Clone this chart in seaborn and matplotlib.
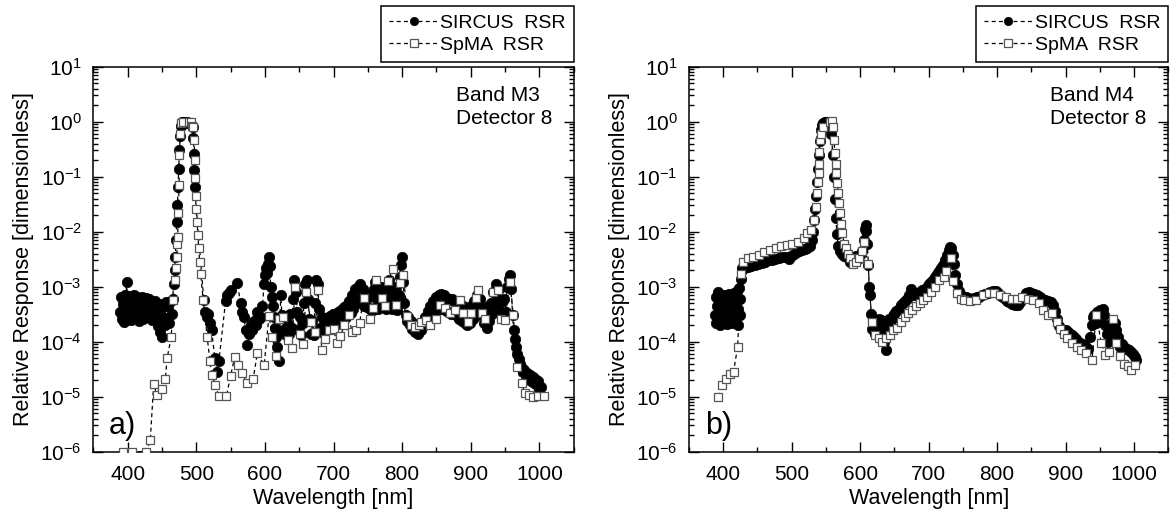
import matplotlib
matplotlib.use("Agg")
import matplotlib.pyplot as plt
import matplotlib.ticker as mticker
import seaborn as sns

# ---------------- data: panel a (Band M3) ----------------
m3_sircus_wl = [389, 390.5, 392, 393, 394.5, 396, 397, 398.5, 400, 401, 402.5, 404, 405.5, 407, 408.5, 410,
                411.5, 413, 414.5, 416, 417.5, 419, 420.5, 422, 423.5, 425, 426.5, 428, 429.5, 431, 432.5, 434,
                435.5, 437, 438.5, 440, 441.5, 443, 444.5, 446, 447.5, 449, 450.5, 452, 453.5, 455, 456.5, 458,
                459.5, 461, 462.5, 464, 465.5, 467,
                468.5, 469.5, 470.5, 471.5, 472.5, 473.5, 474.5, 475.5, 476.5, 477.5, 479, 481, 483, 485, 487,
                495, 496, 496.5, 497, 497.5,
                511, 513, 515, 517.5, 520, 522.5, 527, 530.5, 533,
                542.7, 545, 547.5, 550, 559.8, 564.6, 567, 569.5, 572, 574.4, 577, 579.5, 581.7, 584, 586.5, 589,
                591.5, 594, 596.5, 598.8, 600.5, 602, 603.7, 605, 606, 607, 608.5, 610, 611.5, 613, 614.5, 616,
                618, 620.7,
                623, 625, 627, 629, 631, 633, 635, 637, 639, 641, 643, 645, 647, 649, 651, 653, 655, 657, 659, 661,
                663, 665, 667, 669, 671, 673, 675, 677, 679, 681, 683, 685, 687, 689, 691, 693, 695, 697, 699, 701,
                703, 705, 707, 709, 711, 713, 715, 717, 719, 721, 723, 725, 727, 729, 731, 733, 735, 737, 739, 741,
                743, 745, 747, 749, 751, 753, 755, 757, 759, 761, 763, 765, 767, 769, 771, 773, 775, 777, 779, 781,
                783, 785, 787, 789, 791, 793, 795, 797, 799, 800, 801.5, 803,
                805, 807, 809, 811, 813, 815, 817, 819, 821, 823, 825, 827, 829, 831, 833, 835, 837, 839, 841, 843,
                845, 847, 849, 851, 853, 855, 857, 859, 861, 863, 865, 867, 869, 871, 873, 875, 877, 879, 881, 883,
                885, 887, 889, 891, 893, 895, 897, 899, 901, 903, 905, 907, 909, 911, 913, 915, 917, 919, 921, 923,
                925, 927, 929, 931, 933, 935, 937, 939, 941, 943, 945, 947, 949, 951, 953, 955, 957, 959, 961,
                962.5, 964, 966, 968, 970, 972, 974, 976, 978, 980, 982, 984, 986, 988, 990, 992, 994, 996, 998,
                1000, 1002]
m3_sircus_val = [3.5e-4, 6.5e-4, 2.6e-4, 4.8e-4, 2.3e-4, 7.2e-4, 3.8e-4, 1.2e-3, 5.5e-4, 2.9e-4, 6.8e-4, 4.2e-4,
                 2.5e-4, 6.0e-4, 3.6e-4, 7.0e-4, 2.7e-4, 6.4e-4, 4.5e-4, 2.4e-4, 5.8e-4, 3.3e-4, 6.6e-4, 2.6e-4,
                 5.2e-4, 3.9e-4, 6.2e-4, 2.8e-4, 4.6e-4, 6.0e-4, 3.0e-4, 5.0e-4, 2.5e-4, 4.4e-4, 3.2e-4, 5.4e-4,
                 2.4e-4, 4.0e-4, 1.9e-4, 4.8e-4, 1.5e-4, 3.0e-4, 1.2e-4, 2.6e-4, 4.6e-4, 2.0e-4, 5.2e-4, 2.7e-4,
                 4.4e-4, 2.2e-4, 5.6e-4, 3.2e-4, 6.0e-4, 1.1e-3,
                 2.0e-3, 3.5e-3, 7e-3, 1.5e-2, 3.0e-2, 6.5e-2, 0.14, 0.3, 0.55, 0.85, 1.0, 0.97, 1.0, 0.96, 1.0,
                 0.8, 0.5, 0.26, 0.13, 0.066,
                 5.8e-4, 3.5e-4, 2.8e-4, 3.2e-4, 2.2e-4, 1.6e-4, 5e-5, 2.8e-5, 4.4e-5,
                 5.4e-4, 7.0e-4, 7.6e-4, 8.7e-4, 1.17e-3, 5.0e-4, 3.5e-4, 2.8e-4, 1.6e-4, 8.7e-5, 1.4e-4, 2.0e-4,
                 1.6e-4, 2.4e-4, 2.0e-4, 3.5e-4, 2.6e-4, 2.8e-4, 4.5e-4, 1.1e-3, 1.6e-3, 2.2e-3, 1.8e-3, 2.6e-3,
                 3.5e-3, 2.4e-3, 1.0e-3, 6.5e-4, 4.5e-4, 2.8e-4, 1.8e-4, 1.2e-4, 8.1e-5, 4.4e-5,
                 7.0e-4, 3.0e-4, 1.6e-4, 2.6e-4, 1.3e-4, 2.1e-4, 1.4e-4, 3.2e-4, 1.8e-4, 6e-4, 1.3e-3, 8e-4,
                 3.5e-4, 1.6e-4, 2.8e-4, 1.3e-4, 2.2e-4, 5e-4, 1.1e-3, 1.3e-3, 6e-4, 2.6e-4, 1.4e-4, 2.4e-4,
                 1.3e-4, 5e-4, 1.3e-3, 1.1e-3, 4e-4, 1.8e-4, 2.8e-4, 1.5e-4, 2.4e-4, 1.6e-4, 2.7e-4, 1.7e-4,
                 2.9e-4, 1.9e-4, 3.2e-4, 2.0e-4, 3.1e-4, 2.1e-4, 3.4e-4, 2.3e-4, 3.8e-4, 2.5e-4, 4.2e-4, 2.7e-4,
                 4.6e-4, 3.0e-4, 5.5e-4, 3.3e-4, 7e-4, 4e-4, 9e-4, 5e-4, 1.0e-3, 6e-4, 1.1e-3, 5e-4, 9e-4,
                 4.5e-4, 7.5e-4, 4.2e-4, 6.5e-4, 4.0e-4, 7e-4, 3.8e-4, 9e-4, 1.2e-3, 6e-4, 4.0e-4, 8e-4, 5e-4,
                 1.0e-3, 4.5e-4, 7e-4, 4e-4, 9e-4, 1.3e-3, 6e-4, 4e-4, 8e-4, 5e-4, 1.0e-3, 3.8e-4, 7e-4, 1.5e-3,
                 2.5e-3, 3.4e-3, 1.2e-3, 5e-4,
                 3.0e-4, 2.4e-4, 2.8e-4, 2.0e-4, 2.4e-4, 1.7e-4, 2.1e-4, 1.5e-4, 1.9e-4, 1.4e-4, 1.8e-4, 1.6e-4,
                 2.2e-4, 1.9e-4, 2.8e-4, 2.4e-4, 3.6e-4, 2.9e-4, 4.5e-4, 3.4e-4, 5.6e-4, 3.6e-4, 6.4e-4, 3.8e-4,
                 7.0e-4, 4.0e-4, 7.5e-4, 4.2e-4, 7.0e-4, 3.8e-4, 6.2e-4, 3.4e-4, 5.8e-4, 3.2e-4, 6.0e-4, 3.6e-4,
                 5.4e-4, 3.0e-4, 5.0e-4, 2.6e-4, 4.6e-4, 2.4e-4, 4.4e-4, 2.2e-4, 4.0e-4, 2.0e-4, 3.6e-4, 2.2e-4,
                 4.4e-4, 2.6e-4, 5.4e-4, 3.2e-4, 7.0e-4, 4.0e-4, 6.0e-4, 3.0e-4, 4.4e-4, 2.2e-4, 3.4e-4, 1.8e-4,
                 3.6e-4, 2.4e-4, 5.0e-4, 3.2e-4, 8.0e-4, 4.6e-4, 1.1e-3, 6.0e-4, 9.0e-4, 3.6e-4, 5.5e-4, 2.8e-4,
                 6.0e-4, 3.5e-4, 1.0e-3, 1.4e-3, 1.6e-3, 9e-4, 3e-4,
                 1.6e-4, 1.1e-4, 8e-5, 6e-5, 4.8e-5, 4e-5, 3.3e-5, 2.8e-5, 3.0e-5, 2.4e-5, 2.7e-5, 2.1e-5, 2.5e-5,
                 1.9e-5, 2.3e-5, 1.8e-5, 2.1e-5, 1.6e-5, 1.9e-5, 1.4e-5, 1.5e-5]

m3_spma_wl = [394, 406, 427, 433, 438, 443, 450, 455, 457.5, 463.5, 466.5, 469, 470.5, 471.5, 472.5, 473, 474,
              475, 475.5, 476.5, 478, 481, 490, 492, 494, 496, 497, 497.6, 498, 499.5, 500, 501, 502.5, 503.5,
              505, 506.5, 510, 516, 520, 523, 528, 533, 544, 550, 556, 561, 567, 574, 583, 589, 599, 606, 611,
              616, 620, 627, 634, 639, 644, 651, 656, 660, 667, 673, 677, 683, 688, 694, 700, 705, 710, 716, 722,
              727, 733, 738, 744, 753, 758, 762.6, 770, 775, 779.6, 786, 791.7, 797.6, 801.5, 807.8, 813.6,
              818.5, 824, 828, 834.5, 841, 850, 855, 862, 869.6, 877, 884, 889, 896, 901, 907.5, 911, 917, 920.7,
              932, 939, 944, 950, 957, 962, 967, 974, 979, 985, 991, 998.5, 1006]
m3_spma_val = [1e-6, 1e-6, 1e-6, 1.6e-6, 1.7e-5, 1.07e-5, 1.4e-5, 2.1e-5, 5e-5, 1.2e-4, 5.7e-4, 1.3e-3, 2.2e-3,
               3.5e-3, 6e-3, 8e-3, 2.2e-2, 7e-2, 0.25, 0.6, 0.95, 1.0, 1.0, 1.0, 0.85, 0.8, 0.47, 0.2, 0.093,
               0.044, 0.026, 0.015, 0.0087, 0.005, 0.0028, 0.0017, 5.8e-4, 1.2e-4, 4.4e-5, 2.5e-5, 1.6e-5,
               1.02e-5, 1.02e-5, 2.4e-5, 5.2e-5, 3.8e-5, 2.75e-5, 1.74e-5, 2.1e-5, 6.2e-5, 3.8e-5, 2.95e-4,
               1.2e-4, 5.4e-5, 2.6e-4, 2.8e-4, 1.07e-4, 7.6e-5, 9.8e-4, 1.4e-4, 8.9e-5, 8.1e-4, 2.3e-4, 1.5e-4,
               8.7e-4, 7.2e-5, 1.1e-4, 1.6e-4, 1.7e-4, 9.5e-5, 1.26e-4, 2.0e-4, 3.0e-4, 1.5e-4, 1.66e-4, 2.2e-4,
               6.3e-4, 2.6e-4, 4.1e-4, 1.35e-3, 6.2e-4, 4.4e-4, 1.29e-3, 2.1e-3, 4.7e-4, 1.15e-3, 1.66e-3,
               2.95e-4, 2.0e-4, 1.86e-4, 2.0e-4, 2.3e-4, 2.45e-4, 2.0e-4, 2.6e-4, 4.7e-4, 4.1e-4, 3.3e-4,
               3.8e-4, 5.75e-4, 3.3e-4, 2.3e-4, 3.3e-4, 6.2e-4, 8.7e-4, 3.3e-4, 2.6e-4, 8.1e-4, 8.7e-4, 2.6e-4,
               2.45e-4, 1.23e-3, 3.0e-4, 3.5e-5, 1.74e-5, 1.17e-5, 1.07e-5, 1.0e-5, 1.02e-5, 1.02e-5]

# ---------------- data: panel b (Band M4) ----------------
m4_sircus_wl = [388, 389, 390, 391, 392, 393, 394, 395, 396, 397, 398, 399, 400, 401, 402, 403, 404, 405, 406,
                407, 408, 409, 410, 411, 412, 413, 414, 415, 416, 417, 418, 419, 420, 421, 422, 423, 424, 425,
                426, 427, 428, 431, 436, 441, 446, 451, 456, 461, 466, 471, 476, 481, 486, 491, 496, 499, 503,
                507, 511, 515, 519, 523, 527, 529, 530.5, 532, 533.5, 535, 536.5, 538, 539.5, 541, 542.5, 544,
                546, 548, 550, 552, 554, 556, 558, 560, 561.5, 563, 564.5, 566, 568, 570, 573, 576, 579, 582,
                585, 588, 591, 594, 597, 600, 603, 605, 607, 608, 609, 610.5, 612, 613, 614.5, 616, 617.5, 619,
                621, 623, 625, 627, 629, 631, 633, 635, 637.5, 640, 642, 644, 646, 648, 650, 653, 656, 659, 662,
                665, 668, 671, 673.5, 676, 679, 682, 685, 688, 691, 694, 697, 700, 703, 706, 709, 712, 715, 718,
                721, 724, 727, 729, 731, 733, 735, 737, 739, 741, 744, 747, 750, 754, 758, 762, 766, 770, 774,
                778, 782, 786, 790, 794, 798, 802, 806, 810, 814, 818, 822, 826, 830, 834, 838, 842, 846, 850,
                854, 858, 862, 866, 870, 874, 878, 882, 885, 888, 891, 894, 897, 900, 903, 906, 909, 912, 915,
                918, 921, 924, 927, 930, 933, 936, 938, 940, 942, 944, 946, 948, 950, 952, 954, 956, 958, 960,
                962, 964, 966, 968, 970, 972, 974, 976, 978, 980, 983, 986, 989, 992, 995, 998, 1001, 1003]
m4_sircus_val = [3.0e-4, 6.5e-4, 2.2e-4, 4.5e-4, 8.0e-4, 2.8e-4, 5.5e-4, 2.0e-4, 3.8e-4, 6.8e-4, 2.5e-4, 4.8e-4,
                 3.2e-4, 7.0e-4, 2.3e-4, 5.0e-4, 3.4e-4, 6.0e-4, 2.1e-4, 4.2e-4, 7.5e-4, 2.7e-4, 5.2e-4, 3.0e-4,
                 6.4e-4, 2.2e-4, 4.6e-4, 3.6e-4, 7.8e-4, 2.6e-4, 5.6e-4, 3.2e-4, 8.5e-4, 2.0e-4, 4.0e-4, 9.5e-4,
                 3.0e-4, 6e-4, 1.4e-3, 2.0e-3, 2.2e-3, 2.2e-3, 2.3e-3, 2.4e-3, 2.5e-3, 2.6e-3, 2.7e-3, 2.8e-3,
                 3.0e-3, 3.1e-3, 3.2e-3, 3.3e-3, 3.4e-3, 3.5e-3, 3.2e-3, 3.6e-3, 4.0e-3, 4.2e-3, 4.4e-3, 4.6e-3,
                 4.8e-3, 5.0e-3, 5.4e-3, 7e-3, 1.0e-2, 1.6e-2, 2.6e-2, 4.5e-2, 8e-2, 0.14, 0.25, 0.45, 0.7, 0.88,
                 0.95, 1.0, 0.97, 1.0, 0.95, 0.9, 0.6, 0.25, 0.1, 0.04, 0.018, 0.009, 0.0055, 0.0045, 0.004,
                 0.0036, 0.0042, 0.0033, 0.0028, 0.0034, 0.003, 0.0036, 0.0032, 0.0038, 0.0045, 0.007, 0.011,
                 0.013, 0.0105, 0.006, 0.0025, 0.001, 7e-4, 3.2e-4, 1.7e-4, 2.4e-4, 1.4e-4, 2.2e-4, 1.6e-4,
                 2.6e-4, 1.8e-4, 2.5e-4, 1.5e-4, 1.0e-4, 7e-5, 2.0e-4, 2.6e-4, 2.2e-4, 2.6e-4, 2.9e-4, 3.2e-4,
                 3.6e-4, 4.0e-4, 4.6e-4, 5.0e-4, 5.4e-4, 6.0e-4, 7.0e-4, 9.0e-4, 8.0e-4, 7.0e-4, 7.2e-4, 7.6e-4,
                 8.0e-4, 8.6e-4, 9.2e-4, 1.0e-3, 1.1e-3, 1.2e-3, 1.35e-3, 1.5e-3, 1.7e-3, 1.9e-3, 2.2e-3, 2.5e-3,
                 3.0e-3, 3.8e-3, 4.6e-3, 5.2e-3, 5.0e-3, 3.8e-3, 2.6e-3, 1.6e-3, 1.1e-3, 8.5e-4, 7.2e-4, 6.6e-4,
                 6.4e-4, 6.2e-4, 6.0e-4, 6.2e-4, 6.4e-4, 6.6e-4, 7.0e-4, 7.4e-4, 7.8e-4, 8.0e-4, 8.4e-4, 8.2e-4,
                 7.6e-4, 6.8e-4, 6.2e-4, 5.6e-4, 5.2e-4, 4.8e-4, 4.6e-4, 4.7e-4, 5.2e-4, 6.2e-4, 7.6e-4, 8.0e-4,
                 7.8e-4, 7.4e-4, 7.0e-4, 6.6e-4, 6.0e-4, 5.8e-4, 5.6e-4, 5.2e-4, 4.6e-4, 3.6e-4, 2.6e-4, 1.9e-4,
                 1.7e-4, 1.6e-4, 1.6e-4, 1.5e-4, 1.4e-4, 1.3e-4, 1.2e-4, 1.1e-4, 1.0e-4, 9.5e-5, 9.0e-5, 8.5e-5,
                 8.0e-5, 7.5e-5, 1.2e-4, 2.0e-4, 2.8e-4, 3.0e-4, 2.2e-4, 3.4e-4, 2.6e-4, 3.8e-4, 2.8e-4, 4.0e-4,
                 3.0e-4, 2.0e-4, 1.4e-4, 1.0e-4, 1.4e-4, 2.0e-4, 2.2e-4, 1.8e-4, 2.2e-4, 1.6e-4, 1.2e-4, 9e-5,
                 8e-5, 9e-5, 8e-5, 7.5e-5, 7e-5, 6.5e-5, 6e-5, 5.2e-5, 4.6e-5]

m4_spma_wl = [393, 398, 403.8, 409.8, 415, 421, 426, 429, 435.5, 443.7, 452, 460, 468, 476.5, 484.7, 493, 501,
              509, 517.5, 523, 528, 532.8, 535, 536.6, 537.7, 539.3, 540, 540.4, 541, 543, 546, 555.7, 559, 561,
              562, 562.8, 564, 565, 566.7, 567.8, 569.4, 571, 572, 574, 576.5, 578.7, 582, 585.8, 589.6, 594,
              598, 602, 605, 611.5, 617, 622, 627, 632, 637.7, 643, 648.6, 654, 659.6, 665, 670.5, 676, 681,
              687, 692, 698, 703, 709, 715, 722, 726, 733, 736, 741.5, 747, 752, 760.7, 769, 780, 788, 796, 804,
              812.6, 821, 829, 837, 845, 853, 861, 867, 875, 880.6, 887.7, 891.6, 897, 902.7, 909.8, 916, 923,
              930, 938.5, 945, 952, 958, 963, 968.6, 974, 980, 985, 990.7, 996, 1001.6]
m4_spma_val = [1.0e-5, 1.6e-5, 2.1e-5, 2.6e-5, 2.8e-5, 8.1e-5, 1.7e-3, 2.8e-3, 3.3e-3, 3.5e-3, 3.8e-3, 4.3e-3,
               4.7e-3, 5.0e-3, 5.4e-3, 5.7e-3, 6.1e-3, 6.6e-3, 7.6e-3, 9.3e-3, 1.07e-2, 1.6e-2, 2.8e-2, 5.0e-2,
               8.1e-2, 0.115, 0.17, 0.28, 0.47, 0.6, 0.81, 1.0, 1.02, 0.8, 0.47, 0.27, 0.17, 0.115, 0.076, 0.05,
               0.033, 0.022, 0.014, 0.0093, 0.0061, 0.005, 0.004, 0.0033, 0.0026, 0.0028, 0.0033, 0.0045,
               0.0065, 0.0026, 2.3e-4, 1.3e-4, 1.15e-4, 1.0e-4, 1.15e-4, 1.3e-4, 1.6e-4, 1.8e-4, 2.3e-4, 2.8e-4,
               3.3e-4, 3.8e-4, 4.4e-4, 5.0e-4, 5.7e-4, 6.6e-4, 8.0e-4, 1.0e-3, 1.3e-3, 1.5e-3, 1.9e-3, 3.3e-3,
               1.25e-3, 7.6e-4, 6.1e-4, 5.7e-4, 5.4e-4, 5.7e-4, 7.0e-4, 7.6e-4, 7.6e-4, 7.0e-4, 6.6e-4, 6.1e-4,
               6.1e-4, 6.6e-4, 6.1e-4, 5.7e-4, 5.0e-4, 3.8e-4, 3.0e-4, 3.3e-4, 2.3e-4, 1.7e-4, 1.4e-4, 1.15e-4,
               9.5e-5, 8.1e-5, 7.0e-5, 6.2e-5, 4.7e-5, 3.1e-4, 9.5e-5, 5.7e-5, 6.6e-5, 2.6e-4, 9.5e-5, 5.4e-5,
               4.0e-5, 3.6e-5, 3.1e-5, 3.8e-5]

panel_tags = ["a)", "b)"]
band_labels = ["Band M3", "Band M4"]
detector_label = "Detector 8"
series_labels = ["SIRCUS  RSR", "SpMA  RSR"]
x_label = "Wavelength [nm]"
y_label = "Relative Response [dimensionless]"

# ---------------- style ----------------
sns.set_style("ticks")
plt.rcParams["font.family"] = ["Liberation Sans", "DejaVu Sans"]
plt.rcParams["mathtext.fontset"] = "custom"
plt.rcParams["mathtext.rm"] = "Liberation Sans"
plt.rcParams["mathtext.it"] = "Liberation Sans:italic"
plt.rcParams["mathtext.bf"] = "Liberation Sans:bold"
plt.rcParams["axes.linewidth"] = 1.1
for key in ["text.color", "axes.labelcolor", "xtick.color", "ytick.color", "axes.edgecolor"]:
    plt.rcParams[key] = "black"

W, H = 1175, 519
fig = plt.figure(figsize=(W / 100, H / 100), dpi=100)
ax_a = fig.add_axes([93.3 / W, 67.3 / H, 480.4 / W, 385 / H])
ax_b = fig.add_axes([689 / W, 67.3 / H, 479.3 / W, 385 / H])

dash = (0, (3.2, 2.6))

datasets = [
    (ax_a, m3_sircus_wl, m3_sircus_val, m3_spma_wl, m3_spma_val),
    (ax_b, m4_sircus_wl, m4_sircus_val, m4_spma_wl, m4_spma_val),
]

for i, (ax, sw, sv, pw, pv) in enumerate(datasets):
    sns.lineplot(x=sw, y=sv, ax=ax, estimator=None, sort=False, color="black",
                 marker="o", markersize=7.5, markeredgewidth=0.5, markeredgecolor="black",
                 markerfacecolor="black", linestyle=dash, linewidth=0.9,
                 label=series_labels[0], zorder=2)
    sns.lineplot(x=pw, y=pv, ax=ax, estimator=None, sort=False, color="black",
                 marker="s", markersize=6.4, markeredgewidth=0.9, markeredgecolor="#555555",
                 markerfacecolor="white", linestyle=dash, linewidth=0.9,
                 label=series_labels[1], zorder=3)
    ax.set_yscale("log")
    ax.set_xlim(350, 1050)
    ax.set_ylim(1e-6, 10)
    ax.xaxis.set_major_locator(mticker.MultipleLocator(100))
    ax.xaxis.set_minor_locator(mticker.MultipleLocator(50))
    ax.yaxis.set_major_locator(mticker.LogLocator(base=10, numticks=20))
    ax.yaxis.set_minor_locator(mticker.LogLocator(base=10, subs=[2, 3, 4, 5, 6, 7, 8, 9], numticks=20))
    ax.yaxis.set_minor_formatter(mticker.NullFormatter())
    ax.tick_params(which="both", direction="in", top=True, right=True, width=1.0, color="black")
    ax.tick_params(which="major", length=7)
    ax.tick_params(which="minor", length=3.5)
    ax.tick_params(axis="x", which="major", labelsize=15, pad=9.5)
    ax.tick_params(axis="y", which="major", labelsize=15, pad=8.2)
    for s in ax.spines.values():
        s.set_visible(True)
        s.set_color("black")
    ax.set_xlabel(x_label, fontsize=15.5)
    ax.set_ylabel(y_label, fontsize=15.5)
    ax.xaxis.set_label_coords(0.5, -0.095)
    ax.yaxis.set_label_coords(-0.124, 0.5)

    ax.text(0.754, 0.926, band_labels[i], transform=ax.transAxes, fontsize=15, ha="left", va="center")
    ax.text(0.754, 0.866, detector_label, transform=ax.transAxes, fontsize=15, ha="left", va="center")
    ax.text(0.033, 0.068, panel_tags[i], transform=ax.transAxes, fontsize=22, ha="left", va="center")

    handles, labels = ax.get_legend_handles_labels()
    leg = ax.legend(handles[:2], labels[:2], loc="lower right", bbox_to_anchor=(1.0, 1.013),
                    bbox_transform=ax.transAxes, frameon=True, fancybox=False, edgecolor="black",
                    framealpha=1, fontsize=14, handlelength=2.5, handletextpad=0.1,
                    labelspacing=0.22, borderpad=0.42, borderaxespad=0, markerscale=0.8)
    leg.get_frame().set_linewidth(1.1)

fig.savefig("out.png", dpi=100, facecolor="white")
